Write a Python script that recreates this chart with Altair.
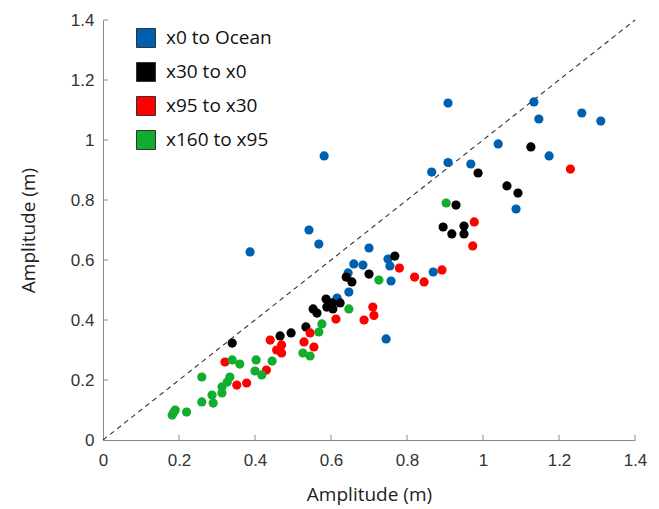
import altair as alt
import pandas as pd

# ---- data ----
blue_x = [0.387, 0.582, 0.542, 0.568, 0.700, 0.660, 0.684, 0.645, 0.647, 0.616,
          0.750, 0.755, 0.758, 0.745, 0.869, 0.865, 0.908, 0.968, 1.040, 1.087,
          1.174, 0.908, 1.134, 1.147, 1.260, 1.310]
blue_y = [0.627, 0.947, 0.700, 0.653, 0.640, 0.587, 0.583, 0.557, 0.493, 0.473,
          0.603, 0.580, 0.530, 0.337, 0.560, 0.893, 0.925, 0.920, 0.987, 0.770,
          0.947, 1.123, 1.127, 1.070, 1.090, 1.063]

black_x = [0.340, 0.466, 0.495, 0.534, 0.553, 0.563, 0.587, 0.589, 0.603, 0.605,
           0.624, 0.640, 0.655, 0.700, 0.768, 0.895, 0.918, 0.950, 0.950, 0.929,
           0.987, 1.063, 1.092, 1.126]
black_y = [0.323, 0.347, 0.357, 0.377, 0.437, 0.423, 0.470, 0.443, 0.457, 0.437,
           0.457, 0.543, 0.527, 0.553, 0.613, 0.710, 0.687, 0.713, 0.687, 0.783,
           0.890, 0.847, 0.823, 0.977]

red_x = [0.321, 0.352, 0.378, 0.430, 0.440, 0.457, 0.470, 0.470, 0.529, 0.545,
         0.555, 0.613, 0.687, 0.710, 0.713, 0.780, 0.820, 0.845, 0.892, 0.977,
         0.973, 1.230]
red_y = [0.260, 0.183, 0.190, 0.233, 0.333, 0.300, 0.317, 0.290, 0.327, 0.357,
         0.310, 0.403, 0.400, 0.443, 0.415, 0.573, 0.543, 0.527, 0.567, 0.727,
         0.647, 0.903]

green_x = [0.182, 0.190, 0.186, 0.220, 0.260, 0.260, 0.287, 0.290, 0.313, 0.313,
           0.334, 0.327, 0.340, 0.360, 0.403, 0.400, 0.418, 0.445, 0.526, 0.545,
           0.568, 0.576, 0.647, 0.726, 0.903]
green_y = [0.083, 0.100, 0.092, 0.093, 0.127, 0.210, 0.150, 0.123, 0.177, 0.157,
           0.210, 0.193, 0.267, 0.253, 0.267, 0.230, 0.217, 0.263, 0.290, 0.280,
           0.360, 0.387, 0.437, 0.533, 0.790]

series = ["x0 to Ocean", "x30 to x0", "x95 to x30", "x160 to x95"]
colors = ["#0060AE", "#000000", "#FF0000", "#12AC2E"]

x_ticks = [0, 0.2, 0.4, 0.6, 0.8, 1, 1.2, 1.4]
y_ticks = [0, 0.2, 0.4, 0.6, 0.8, 1, 1.2, 1.4]
diag = [0, 1.4]

rows = []
for name, xs, ys in zip(series, [blue_x, black_x, red_x, green_x],
                        [blue_y, black_y, red_y, green_y]):
    for a, b in zip(xs, ys):
        rows.append({"x": a, "y": b, "series": name, "order": series.index(name)})
df = pd.DataFrame(rows)

xscale = alt.Scale(domain=[0, 1.4], nice=False, zero=False)
yscale = alt.Scale(domain=[0, 1.4], nice=False, zero=False)

tick_font = "Liberation Sans"
title_font = "Open Sans"

points = alt.Chart(df).mark_circle(size=85, opacity=1).encode(
    x=alt.X("x:Q", scale=xscale, title="Amplitude (m)",
            axis=alt.Axis(values=x_ticks, tickSize=0, grid=False, labelPadding=12,
                          domainColor="#8a8a8a", labelColor="#333333",
                          labelFontSize=17, labelFont=tick_font,
                          titleFont=title_font, titleFontSize=19, titleFontWeight="normal",
                          titleColor="#222222", titlePadding=17, labelFlush=False,
                          format="~g")),
    y=alt.Y("y:Q", scale=yscale, title="Amplitude (m)",
            axis=alt.Axis(values=y_ticks, tickSize=0, grid=False, labelPadding=9,
                          domainColor="#8a8a8a", labelColor="#333333",
                          labelFontSize=17, labelFont=tick_font,
                          titleFont=title_font, titleFontSize=19, titleFontWeight="normal",
                          titleColor="#222222", titlePadding=32, labelFlush=False,
                          format="~g")),
    color=alt.Color("series:N",
                    scale=alt.Scale(domain=series, range=colors),
                    legend=alt.Legend(title=None, orient="none", legendX=33, legendY=8,
                                      symbolType="square", symbolSize=361,
                                      symbolStrokeColor="#333333", symbolStrokeWidth=1,
                                      labelFont=title_font, labelFontSize=19,
                                      labelColor="#111111", rowPadding=10,
                                      labelOffset=10, padding=0)),
    order=alt.Order("order:Q"),
)

diag_df = pd.DataFrame({"x": diag, "y": diag})
diagonal = alt.Chart(diag_df).mark_line(color="#333333", strokeWidth=1.1,
                                        strokeDash=[5, 4]).encode(
    x=alt.X("x:Q", scale=xscale), y=alt.Y("y:Q", scale=yscale))

xt = pd.DataFrame({"t": x_ticks[1:]})
yt = pd.DataFrame({"t": y_ticks[1:]})
xtick_marks = alt.Chart(xt).mark_rule(color="#8a8a8a", strokeWidth=1).encode(
    x=alt.X("t:Q", scale=xscale),
    y=alt.datum(0, scale=yscale), y2=alt.datum(0.017))
ytick_marks = alt.Chart(yt).mark_rule(color="#8a8a8a", strokeWidth=1).encode(
    y=alt.Y("t:Q", scale=yscale),
    x=alt.datum(0, scale=xscale), x2=alt.datum(0.013))

chart = alt.layer(diagonal, xtick_marks, ytick_marks, points).properties(
    width=532, height=420,
    autosize=alt.AutoSizeParams(type="none"),
    padding={"left": 103, "top": 20, "right": 24, "bottom": 69},
    background="white",
).configure_view(stroke=None)

chart.save("out.html", embed_options={"renderer": "svg", "actions": False})
